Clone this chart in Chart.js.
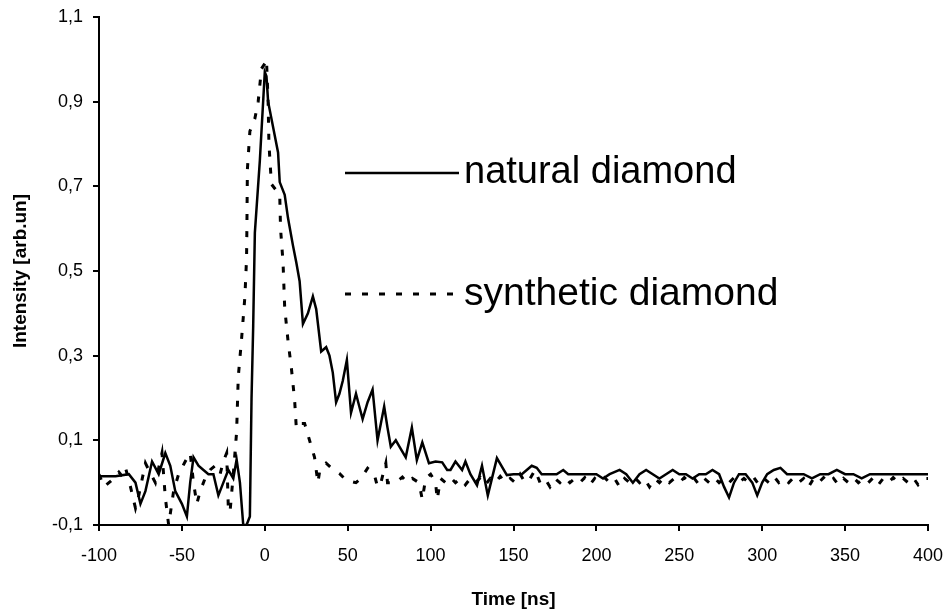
<!DOCTYPE html>
<html>
<head>
<meta charset="utf-8">
<script src="https://cdn.jsdelivr.net/npm/chart.js@4"></script>
<style>
  html, body { margin: 0; padding: 0; background: #fff; }
  #wrap { width: 946px; height: 616px; }
</style>
</head>
<body>
<div id="wrap"><canvas id="chart" width="946" height="616"></canvas></div>
<script>
// tick labels
const xTicks = [-100, -50, 0, 50, 100, 150, 200, 250, 300, 350, 400];
const yTicks = [-0.1, 0.1, 0.3, 0.5, 0.7, 0.9, 1.1];

const seriesNames = ["natural diamond", "synthetic diamond"];

// natural diamond (solid line)
const naturalTime = [
  -100, -90, -82, -78, -75, -72, -68, -64, -60, -57, -54, -50, -47, -45, -43, -40, -37, -34, -31, -28,
  -25, -22, -19, -17, -15, -13, -11, -9, -8, -7, -6, -3, 0, 1, 2, 8, 9, 12, 14, 17,
  19, 21, 23, 26, 29, 31, 34, 37, 39, 41, 43, 45, 47, 49.5, 52, 55, 57, 59, 62, 65,
  68, 70, 72, 74, 76, 79, 82, 85, 88.7, 91.7, 95, 99, 103, 107, 110, 112, 115, 117, 119, 121,
  124, 128, 131, 134.5, 140, 146, 150, 155, 158, 161, 164, 167, 172, 176, 180, 183, 190, 196, 200, 204,
  208, 214, 218, 222, 226, 230, 234, 238, 242, 246, 250, 254, 258, 262, 266, 270, 274, 277, 280, 283,
  286, 290, 294, 297, 300, 303, 307, 311, 315, 320, 325, 330, 335, 340, 345, 350, 355, 360, 365, 370,
  375, 380, 385, 390, 395, 400
];
const naturalValues = [
  0.015, 0.015, 0.02, 0.0, -0.05, -0.02, 0.05, 0.02, 0.07, 0.04, -0.02, -0.05, -0.08, 0.0, 0.06, 0.04, 0.03, 0.02, 0.02, -0.03,
  0.0, 0.03, 0.01, 0.055, 0.0, -0.1, -0.1, -0.08, 0.2, 0.37, 0.59, 0.76, 0.97, 0.96, 0.9, 0.78, 0.71, 0.68, 0.625, 0.56,
  0.52, 0.476, 0.375, 0.4, 0.44, 0.41, 0.31, 0.32, 0.3, 0.26, 0.19, 0.21, 0.24, 0.29, 0.165, 0.21, 0.18, 0.15, 0.19, 0.22,
  0.1, 0.14, 0.18, 0.13, 0.085, 0.1, 0.08, 0.06, 0.13, 0.053, 0.095, 0.046, 0.05, 0.048, 0.03, 0.03, 0.05, 0.04, 0.03, 0.05,
  0.02, -0.006, 0.04, -0.03, 0.058, 0.018, 0.02, 0.02, 0.03, 0.04, 0.035, 0.02, 0.02, 0.02, 0.03, 0.02, 0.02, 0.02, 0.02, 0.01,
  0.02, 0.03, 0.02, 0.0, 0.02, 0.03, 0.02, 0.01, 0.02, 0.03, 0.02, 0.02, 0.01, 0.02, 0.02, 0.03, 0.02, -0.01, -0.035, 0.0,
  0.02, 0.02, 0.0, -0.03, 0.0, 0.02, 0.03, 0.035, 0.02, 0.02, 0.02, 0.01, 0.02, 0.02, 0.03, 0.02, 0.02, 0.01, 0.02, 0.02,
  0.02, 0.02, 0.02, 0.02, 0.02, 0.02
];

// synthetic diamond (dotted line)
const syntheticTime = [
  -100, -97, -94, -91, -88, -86, -84, -81, -78, -76, -72, -70, -66, -62, -60, -58, -55, -52, -48, -45,
  -43, -41, -39, -36, -33, -30, -27, -25, -23, -22, -21, -19, -17, -16, -14, -12, -11, -10.8, -10.5, -9,
  -6, -4, -2, 0, 1, 2, 2.5, 4, 9, 9.5, 11, 12, 14, 16, 18, 19, 20, 24, 27, 30,
  32, 33, 37, 40, 45, 49, 55, 58, 62, 66, 68, 70, 73, 74, 79, 83, 86, 89, 93, 95,
  97, 100, 103, 104, 106, 109, 112, 115, 118, 121, 124, 127, 130, 133, 136, 139, 142, 145, 148, 151,
  154, 157, 160, 163, 166, 169, 172, 175, 178, 181, 184, 187, 190, 193, 196, 199, 202, 205, 208, 211,
  214, 217, 220, 223, 226, 229, 232, 235, 238, 241, 244, 247, 250, 253, 256, 259, 262, 265, 268, 271,
  274, 277, 280, 283, 286, 289, 292, 295, 298, 301, 304, 307, 310, 313, 316, 319, 322, 325, 328, 331,
  334, 337, 340, 343, 346, 349, 352, 355, 358, 361, 364, 367, 370, 373, 376, 379, 382, 385, 388, 391,
  394, 397, 400
];
const syntheticValues = [
  0.02, -0.01, 0.0, 0.01, 0.025, 0.015, 0.035, -0.01, -0.06, -0.03, 0.046, 0.03, 0.0, 0.07, -0.035, -0.1, -0.02, 0.02, 0.05, 0.07,
  0.0, -0.05, -0.02, 0.01, 0.03, 0.04, 0.02, 0.05, 0.07, -0.06, -0.07, 0.02, 0.12, 0.25, 0.34, 0.44, 0.53, 0.6, 0.74, 0.83,
  0.86, 0.9, 0.978, 0.99, 1.0, 0.9, 0.8, 0.705, 0.68, 0.6, 0.52, 0.413, 0.335, 0.272, 0.194, 0.13, 0.14, 0.14, 0.1, 0.06,
  0.0, 0.025, 0.046, 0.035, 0.022, 0.006, 0.0, 0.01, 0.034, 0.02, -0.01, 0.0, 0.046, 0.0, 0.0, 0.013, 0.0, 0.01, 0.0, -0.04,
  0.01, 0.02, 0.0, -0.04, 0.01, 0.0, 0.012, 0.0, 0.01, -0.005, 0.01, 0.0, 0.012, -0.005, 0.01, 0.0, 0.015, 0.0, 0.01, 0.0,
  0.02, 0.0, 0.01, 0.03, 0.0, 0.01, -0.01, 0.01, 0.0, 0.012, 0.0, 0.01, 0.0, 0.012, -0.005, 0.01, 0.0, 0.012, 0.0, 0.01,
  -0.01, 0.01, 0.0, 0.012, 0.0, 0.01, -0.01, 0.01, 0.0, 0.012, 0.0, 0.01, 0.0, 0.012, 0.0, 0.01, -0.005, 0.01, 0.0, 0.012,
  0.0, 0.01, 0.0, 0.012, 0.0, 0.01, 0.0, 0.012, -0.005, 0.01, 0.0, 0.015, 0.0, 0.01, 0.0, 0.012, 0.0, 0.01, -0.01, 0.01,
  0.0, 0.012, 0.0, 0.01, -0.005, 0.01, 0.0, 0.012, 0.0, 0.01, 0.0, 0.012, -0.005, 0.01, 0.0, 0.012, 0.0, 0.01, 0.0, 0.012,
  -0.005, 0.01, 0.01
];

const FONT = "'Liberation Sans', Arial, sans-serif";
const DASH = [6, 11];

function toPoints(times, values) {
  return times.map((t, i) => ({ x: t, y: values[i] }));
}

const comma = v => v.toFixed(1).replace(".", ",");

// legend drawn inside the plot area, like the original
const innerLegend = {
  id: "innerLegend",
  afterDraw(chart) {
    const ctx = chart.ctx;
    const area = chart.chartArea;
    const x0 = area.left + 246;
    const x1 = area.left + 360;
    const rows = [
      { y: area.top + 156, dash: [], width: 2.5, size: 38 },
      { y: area.top + 277, dash: DASH, width: 3, size: 39 }
    ];
    ctx.save();
    ctx.fillStyle = "#000";
    ctx.textBaseline = "middle";
    rows.forEach((r, i) => {
      ctx.beginPath();
      ctx.setLineDash(r.dash);
      ctx.lineWidth = r.width;
      ctx.strokeStyle = "#000";
      ctx.moveTo(x0, r.y);
      ctx.lineTo(x1, r.y);
      ctx.stroke();
      ctx.font = r.size + "px " + FONT;
      ctx.fillText(seriesNames[i], x1 + 5, r.y);
    });
    ctx.restore();
  }
};

new Chart(document.getElementById("chart"), {
  type: "line",
  data: {
    datasets: [
      {
        label: seriesNames[0],
        data: toPoints(naturalTime, naturalValues),
        borderColor: "#000",
        borderWidth: 2.5,
        pointRadius: 0,
        tension: 0
      },
      {
        label: seriesNames[1],
        data: toPoints(syntheticTime, syntheticValues),
        borderColor: "#000",
        borderWidth: 3,
        borderDash: DASH,
        pointRadius: 0,
        tension: 0
      }
    ]
  },
  options: {
    responsive: false,
    animation: false,
    layout: { padding: { top: 17, right: 18, left: 0, bottom: 0 } },
    plugins: {
      legend: { display: false },
      tooltip: { enabled: false }
    },
    scales: {
      x: {
        type: "linear",
        min: -100,
        max: 400,
        afterBuildTicks: s => { s.ticks = xTicks.map(v => ({ value: v })); },
        afterFit: s => { s.height = 91; s.paddingLeft = 0; s.paddingRight = 0; },
        grid: { drawOnChartArea: false, drawTicks: true, tickLength: 6, color: "#000", lineWidth: 2 },
        border: { display: true, color: "#000", width: 2 },
        ticks: {
          color: "#000",
          font: { family: FONT, size: 18 },
          padding: 14,
          maxRotation: 0,
          callback: v => String(v)
        },
        title: {
          display: true,
          text: "Time [ns]",
          color: "#000",
          font: { family: FONT, size: 19, weight: "bold" },
          padding: { top: 0, bottom: 5 }
        }
      },
      y: {
        min: -0.1,
        max: 1.1,
        afterBuildTicks: s => { s.ticks = yTicks.map(v => ({ value: v })); },
        afterFit: s => { s.width = 99; s.paddingTop = 0; s.paddingBottom = 0; },
        grid: { drawOnChartArea: false, drawTicks: true, tickLength: 6, color: "#000", lineWidth: 2 },
        border: { display: true, color: "#000", width: 2 },
        ticks: {
          color: "#000",
          font: { family: FONT, size: 18 },
          padding: 10,
          callback: v => comma(v)
        },
        title: {
          display: true,
          text: "Intensity [arb.un]",
          color: "#000",
          font: { family: FONT, size: 19, weight: "bold" },
          padding: { top: 9, bottom: 0 }
        }
      }
    }
  },
  plugins: [innerLegend]
});
</script>
</body>
</html>
